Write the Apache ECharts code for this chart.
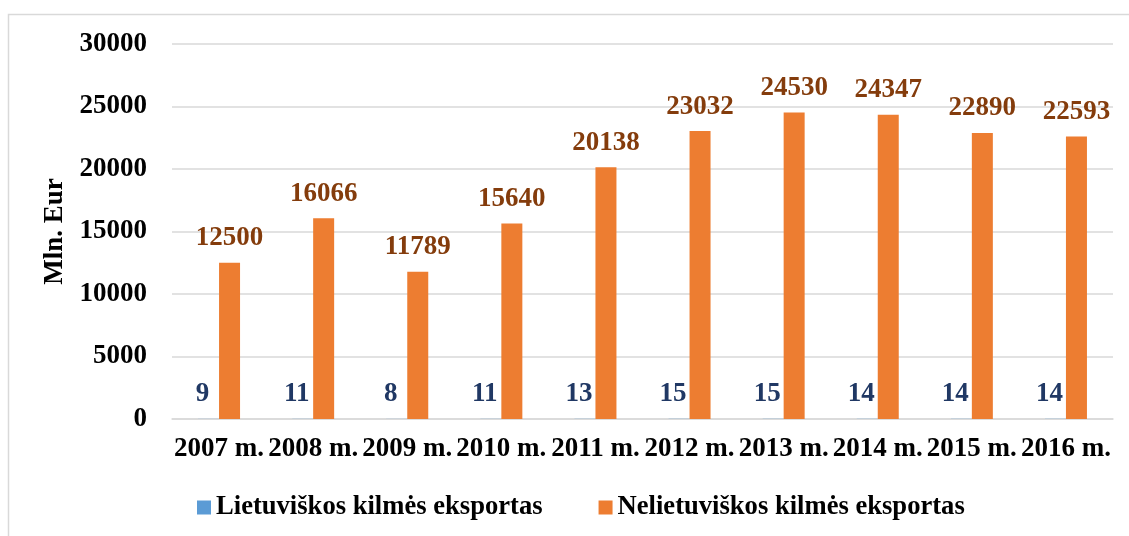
<!DOCTYPE html>
<html lang="lt">
<head>
    <meta charset="UTF-8">
    <title>Eksportas</title>
    <style>
      html, body { margin: 0; padding: 0; background: #fff; }
      #container { width: 1129px; height: 536px; }
    </style>
</head>
<body>
  <div id="container"></div>

  <script type="text/javascript" src="https://fastly.jsdelivr.net/npm/echarts@6/dist/echarts.min.js"></script>

  <script type="text/javascript">
    // data
    const years = ['2007 m.', '2008 m.', '2009 m.', '2010 m.', '2011 m.', '2012 m.', '2013 m.', '2014 m.', '2015 m.', '2016 m.'];
    const lietuviskos = [9, 11, 8, 11, 13, 15, 15, 14, 14, 14];
    const nelietuviskos = [12500, 16066, 11789, 15640, 20138, 23032, 24530, 24347, 22890, 22593];
    const seriesNames = ['Lietuviškos kilmės eksportas', 'Nelietuviškos kilmės eksportas'];

    var font = "'Liberation Serif', 'Times New Roman', serif";

    var dom = document.getElementById('container');
    var myChart = echarts.init(dom, null, {
      renderer: 'canvas',
      useDirtyRect: false
    });

    var option = {
      animation: false,
      textStyle: { fontFamily: font },
      // outer chart frame
      graphic: [
        {
          type: 'rect',
          shape: { x: 8.5, y: 14.5, width: 1200, height: 600 },
          style: { fill: 'none', stroke: '#D9D9D9', lineWidth: 1.5 },
          silent: true
        }
      ],
      legend: {
        left: 192,
        top: 489,
        itemWidth: 14,
        itemHeight: 14,
        itemGap: 56,
        icon: 'rect',
        textStyle: {
          fontFamily: font,
          fontWeight: 'bold',
          fontSize: 26.6,
          color: '#000'
        },
        data: seriesNames
      },
      grid: {
        left: 172,
        right: 16,
        top: 44,
        bottom: 117
      },
      xAxis: {
        type: 'category',
        data: years,
        axisTick: { show: false },
        axisLine: { lineStyle: { color: '#D9D9D9', width: 1.5 } },
        axisLabel: {
          margin: 17,
          interval: 0,
          fontFamily: font,
          fontWeight: 'bold',
          fontSize: 27,
          color: '#000'
        }
      },
      yAxis: {
        type: 'value',
        min: 0,
        max: 30000,
        interval: 5000,
        name: 'Mln. Eur',
        nameLocation: 'middle',
        nameGap: 91,
        nameRotate: 90,
        nameTextStyle: {
          fontFamily: font,
          fontWeight: 'bold',
          fontSize: 27,
          color: '#000'
        },
        axisLine: { show: false },
        axisTick: { show: false },
        splitLine: { lineStyle: { color: '#D9D9D9', width: 1.5 } },
        axisLabel: {
          margin: 25,
          formatter: function (v) { return String(v); },
          fontFamily: font,
          fontWeight: 'bold',
          fontSize: 27,
          color: '#000'
        }
      },
      series: [
        {
          name: seriesNames[0],
          type: 'bar',
          data: lietuviskos,
          barWidth: 21,
          barGap: '0%',
          itemStyle: { color: '#5B9BD5' },
          label: {
            show: true,
            position: 'top',
            distance: 11,
            offset: [-6, 0],
            fontFamily: font,
            fontWeight: 'bold',
            fontSize: 27,
            color: '#203864'
          }
        },
        {
          name: seriesNames[1],
          type: 'bar',
          data: nelietuviskos,
          barWidth: 21,
          itemStyle: { color: '#ED7D31' },
          label: {
            show: true,
            position: 'top',
            distance: 11,
            fontFamily: font,
            fontWeight: 'bold',
            fontSize: 27,
            color: '#843C0C'
          }
        }
      ]
    };

    if (option && typeof option === 'object') {
      myChart.setOption(option);
    }

    window.addEventListener('resize', myChart.resize);
  </script>
</body>
</html>
